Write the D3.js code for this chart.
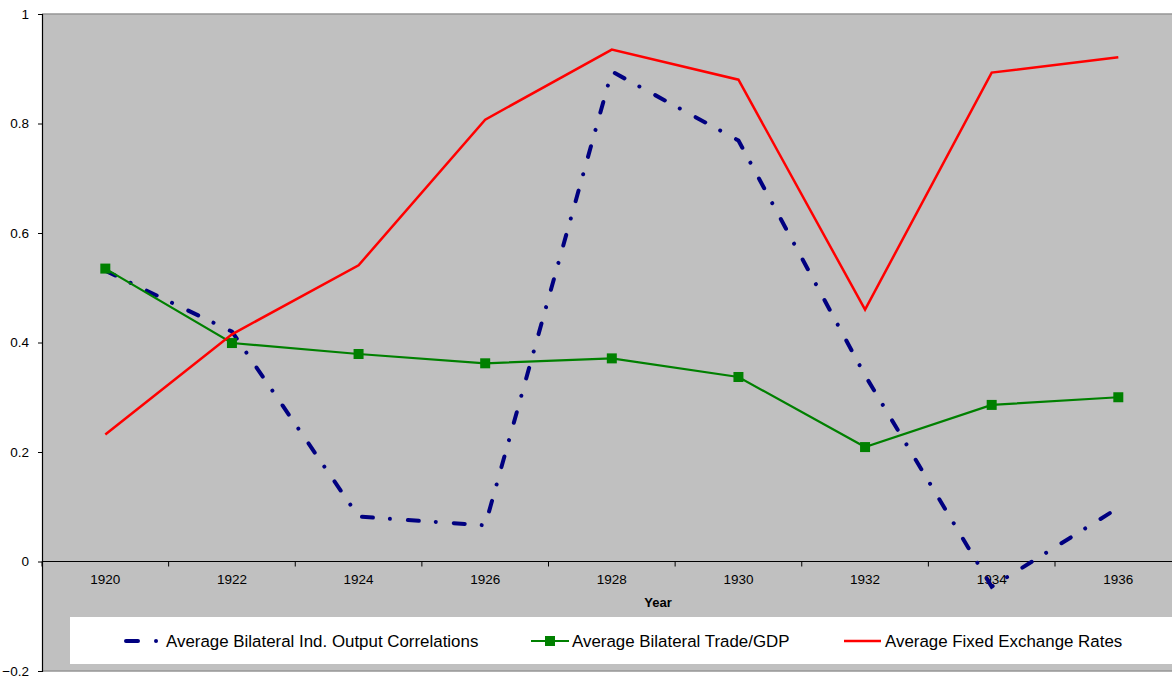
<!DOCTYPE html>
<html>
<head>
<meta charset="utf-8">
<script src="https://cdn.jsdelivr.net/npm/d3@7"></script>
<style>
  html, body { margin: 0; padding: 0; background: #ffffff; overflow: hidden; }
  svg { display: block; font-family: "Liberation Sans", Arial, sans-serif; }
</style>
</head>
<body>
<svg id="chart" width="1172" height="679"></svg>
<script>
// Years on the category axis
const years = ["1920", "1922", "1924", "1926", "1928", "1930", "1932", "1934", "1936"];

// Series values, one per year
const outputCorrelations = [0.531, 0.42, 0.082, 0.066, 0.895, 0.769, 0.34, -0.046, 0.098];
const tradeToGdp = [0.535, 0.399, 0.379, 0.362, 0.371, 0.337, 0.209, 0.286, 0.300];
const fixedExchangeRates = [0.232, 0.415, 0.541, 0.807, 0.935, 0.880, 0.460, 0.893, 0.921];

// Value-axis ticks and series names
const yTicks = [-0.2, 0, 0.2, 0.4, 0.6, 0.8, 1];
const seriesNames = [
  "Average Bilateral Ind. Output Correlations",
  "Average Bilateral Trade/GDP",
  "Average Fixed Exchange Rates"
];

const svg = d3.select("#chart");

const plotLeft = 42, plotTop = 14, plotBottom = 671;
const bandStep = 126.625;

const x = d3.scaleBand()
  .domain(years)
  .range([plotLeft, plotLeft + bandStep * years.length])
  .padding(0);
const y = d3.scaleLinear().domain([-0.2, 1]).range([plotBottom, plotTop]);
const cx = d => x(d) + x.bandwidth() / 2;

// Plot area background
svg.append("rect")
  .attr("x", plotLeft).attr("y", plotTop)
  .attr("width", 1172 - plotLeft + 10).attr("height", plotBottom - plotTop)
  .attr("fill", "#c0c0c0");

// Plot area top/bottom border
svg.append("line")
  .attr("x1", plotLeft).attr("x2", 1180)
  .attr("y1", plotTop).attr("y2", plotTop)
  .attr("stroke", "#969696").attr("stroke-width", 1.5);
svg.append("line")
  .attr("x1", plotLeft).attr("x2", 1180)
  .attr("y1", plotBottom).attr("y2", plotBottom)
  .attr("stroke", "#969696").attr("stroke-width", 1.5);

// Y axis
const yAxis = d3.axisLeft(y)
  .tickValues(yTicks)
  .tickSize(4)
  .tickPadding(9)
  .tickFormat(d => d3.format("")(+d.toFixed(1)));
const yg = svg.append("g")
  .attr("transform", `translate(${plotLeft},0)`)
  .call(yAxis);
yg.select(".domain").attr("stroke", "#000").attr("stroke-width", 1.2);
yg.selectAll(".tick line").attr("stroke", "#000");
yg.selectAll(".tick text")
  .attr("font-size", 13.5)
  .attr("fill", "#000")
  .attr("font-family", "Liberation Sans, Arial, sans-serif");

// X axis at zero, with ticks between categories
const xAxisG = svg.append("g").attr("transform", `translate(0,${y(0)})`);
xAxisG.append("line")
  .attr("x1", plotLeft).attr("x2", 1180)
  .attr("y1", 0).attr("y2", 0)
  .attr("stroke", "#000").attr("stroke-width", 1.2);
const boundaries = years.map(d => x(d)).concat([x(years[years.length - 1]) + x.bandwidth()]);
xAxisG.selectAll("line.tick")
  .data(boundaries)
  .join("line")
  .attr("class", "tick")
  .attr("x1", d => d).attr("x2", d => d)
  .attr("y1", 0).attr("y2", 5)
  .attr("stroke", "#000");
xAxisG.selectAll("text.lbl")
  .data(years)
  .join("text")
  .attr("class", "lbl")
  .attr("x", d => cx(d))
  .attr("y", 22)
  .attr("text-anchor", "middle")
  .attr("font-size", 13.5)
  .text(d => d);

// Axis title
svg.append("text")
  .attr("x", 658).attr("y", 607)
  .attr("text-anchor", "middle")
  .attr("font-size", 13)
  .attr("font-weight", "bold")
  .text("Year");

// Series
const line = d3.line().x((d, i) => cx(years[i])).y(d => y(d));
const dashDot = "11,17,0.01,18";

svg.append("path")
  .datum(outputCorrelations)
  .attr("d", line)
  .attr("fill", "none")
  .attr("stroke", "#000080")
  .attr("stroke-width", 4)
  .attr("stroke-linecap", "round")
  .attr("stroke-dasharray", dashDot);

svg.append("path")
  .datum(tradeToGdp)
  .attr("d", line)
  .attr("fill", "none")
  .attr("stroke", "#008000")
  .attr("stroke-width", 2.2);
svg.selectAll("rect.mk")
  .data(tradeToGdp)
  .join("rect")
  .attr("class", "mk")
  .attr("x", (d, i) => cx(years[i]) - 5)
  .attr("y", d => y(d) - 5)
  .attr("width", 10).attr("height", 10)
  .attr("fill", "#008000");

svg.append("path")
  .datum(fixedExchangeRates)
  .attr("d", line)
  .attr("fill", "none")
  .attr("stroke", "#ff0000")
  .attr("stroke-width", 2.5);

// Legend
const lg = svg.append("g");
lg.append("rect")
  .attr("x", 70).attr("y", 617)
  .attr("width", 1120).attr("height", 47)
  .attr("fill", "#ffffff");

const legendY = 641;
lg.append("line")
  .attr("x1", 126).attr("x2", 160)
  .attr("y1", legendY).attr("y2", legendY)
  .attr("stroke", "#000080").attr("stroke-width", 4)
  .attr("stroke-linecap", "round")
  .attr("stroke-dasharray", "12,18,0.01,40");
lg.append("line")
  .attr("x1", 531).attr("x2", 569)
  .attr("y1", legendY).attr("y2", legendY)
  .attr("stroke", "#008000").attr("stroke-width", 2.2);
lg.append("rect")
  .attr("x", 545).attr("y", legendY - 5)
  .attr("width", 10).attr("height", 10)
  .attr("fill", "#008000");
lg.append("line")
  .attr("x1", 844).attr("x2", 881)
  .attr("y1", legendY).attr("y2", legendY)
  .attr("stroke", "#ff0000").attr("stroke-width", 2.5);

const legendTextX = [166, 572, 885];
lg.selectAll("text")
  .data(seriesNames)
  .join("text")
  .attr("x", (d, i) => legendTextX[i])
  .attr("y", legendY + 6)
  .attr("font-size", 16.9)
  .text(d => d);
</script>
</body>
</html>
